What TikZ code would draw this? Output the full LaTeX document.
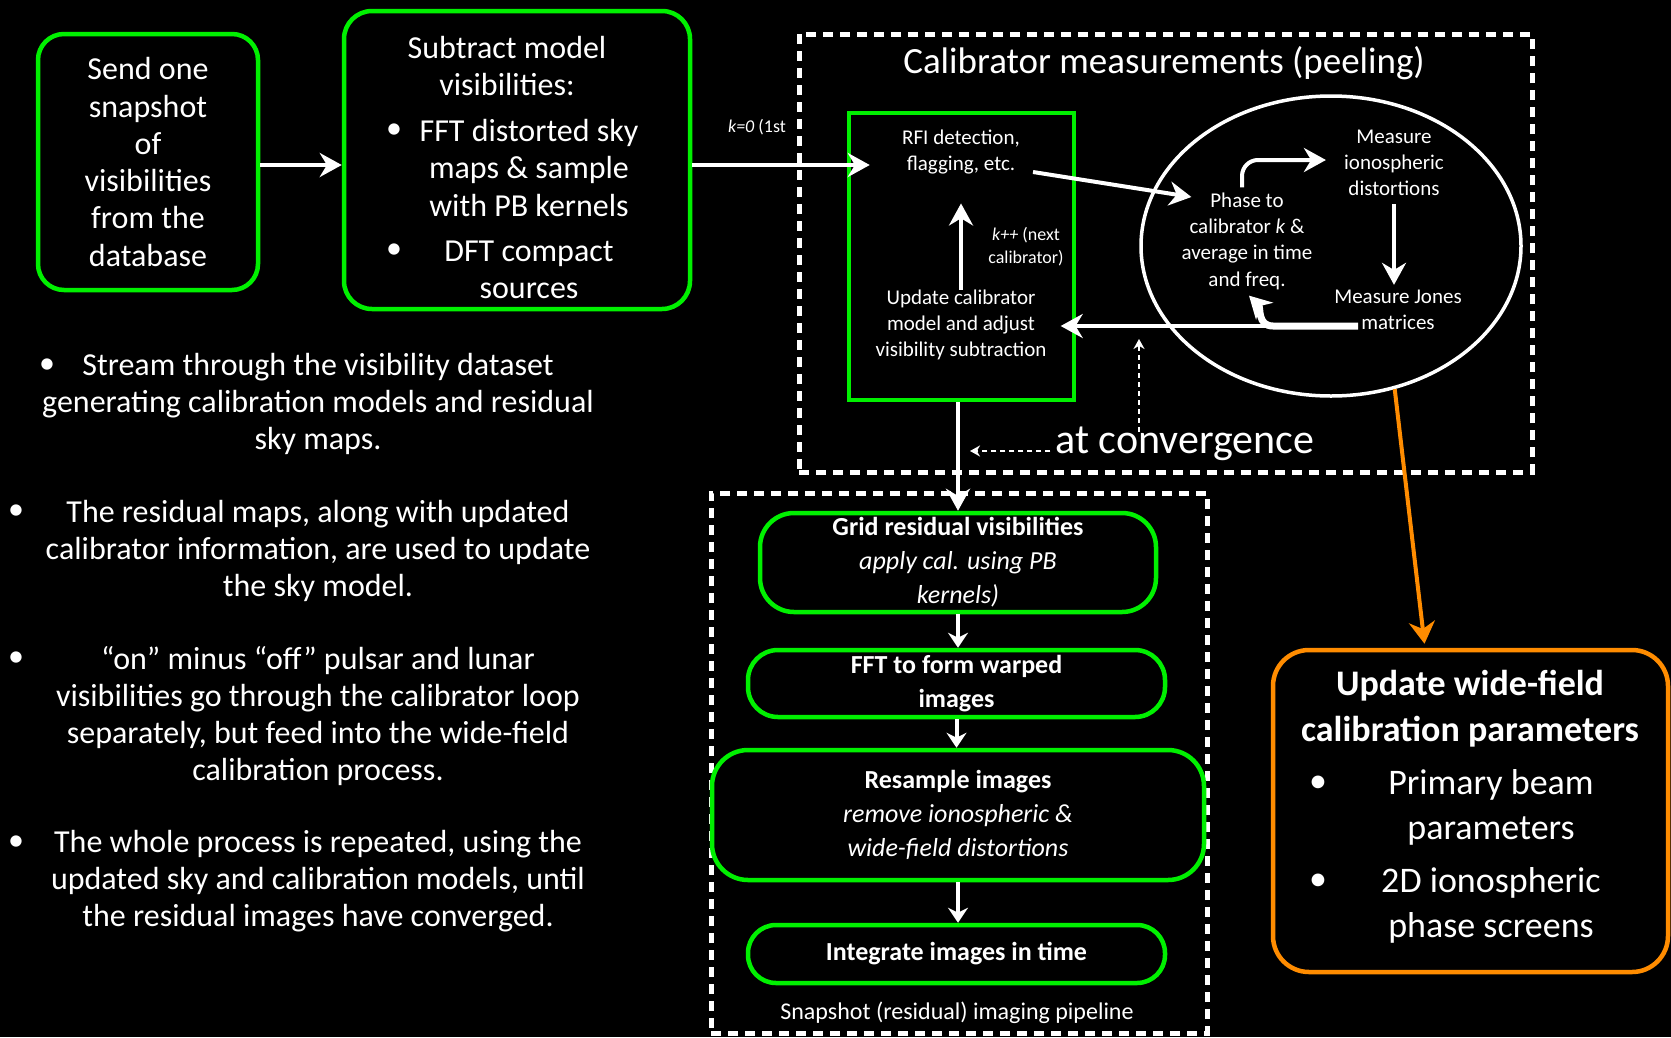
\documentclass[tikz,border=0pt]{standalone}
\usepackage{fontspec}
\setmainfont{Carlito}
\usetikzlibrary{arrows.meta,shapes.geometric,calc}
\definecolor{boxgreen}{RGB}{0,240,0}
\definecolor{caliborange}{RGB}{255,140,0}
\newcommand{\txtsize}[2]{\fontsize{#1}{#2}\selectfont}
\begin{document}
\begin{tikzpicture}[x=1pt, y=-1pt]
	\tikzset{>={Stealth[length=22pt,width=24pt]}}
	\tikzset{
		txt/.style={text=white, align=center, inner sep=0pt},
		bigtxt/.style={txt, font=\txtsize{32}{37.3}},
		widetxt/.style={txt, font=\txtsize{36}{45}},
		midtxt/.style={txt, font=\txtsize{26}{34}},
		smalltxt/.style={txt, font=\txtsize{21}{26.3}},
		tinytxt/.style={txt, font=\txtsize{18}{23}},
		greenbox/.style={draw=boxgreen, line width=4.5pt, rounded corners=#1},
		greenbox/.default=26pt,
		dashbox/.style={draw=white, line width=5pt, dash pattern=on 10pt off 7pt},
		flow/.style={->, draw=white, line width=4pt},
		pipeflow/.style={-{Stealth[length=15pt,width=20pt]}, draw=white, line width=4pt},
		convflow/.style={-{Stealth[length=10pt,width=11pt]}, draw=white, line width=2pt, dash pattern=on 5pt off 4pt}
	}
	\useasboundingbox (0,0) rectangle (1671,1037);
	\fill [black] (0,0) rectangle (1671,1037);

	\node [greenbox, minimum width=220pt, minimum height=256pt, bigtxt] (send) at (148,162) {Send one\\snapshot\\of\\visibilities\\from the\\database};
	\node [greenbox=28pt, minimum width=346pt, minimum height=298pt] (subtract) at (517,160) {};
	\node [bigtxt] (subtitle) at (507,66) {Subtract model\\visibilities:};
	\node [bigtxt] (fftsky) at (529,168) {FFT distorted sky\\maps \& sample\\with PB kernels};
	\node [bigtxt] (dftsrc) at (529,270) {DFT compact\\sources};
	\node [bigtxt] (dota) at (394,131) {\textbullet};
	\node [bigtxt] (dotb) at (394,251) {\textbullet};

	\node [dashbox, minimum width=733pt, minimum height=438pt] (calib) at (1165.5,253) {};
	\node [txt, font=\txtsize{37}{44}] (calibtitle) at (1164,63) {Calibrator measurements (peeling)};
	\node [draw=boxgreen, line width=4.5pt, minimum width=225pt, minimum height=287pt] (calbox) at (961.5,256.5) {};
	\node [smalltxt] (rfi) at (961,152) {RFI detection,\\flagging, etc.};
	\node [smalltxt] (update) at (961,325) {Update calibrator\\model and adjust\\visibility subtraction};
	\node [tinytxt] (knext) at (1026,247) {\textit{k++} (next\\calibrator)};
	\node [tinytxt] (kzero) at (757,127) {\textit{k=0} (1st};
	\node [draw=white, line width=3.5pt, ellipse, minimum width=380pt, minimum height=300pt] (loop) at (1331,246) {};
	\node [smalltxt] (phase) at (1247,241) {Phase to\\calibrator \textit{k} \&\\average in time\\and freq.};
	\node [smalltxt] (iono) at (1394,163) {Measure\\ionospheric\\distortions};
	\node [smalltxt] (jones) at (1398,310) {Measure Jones\\matrices};
	\node [txt, font=\txtsize{42}{48}] (conv) at (1185,444) {at convergence};

	\node [dashbox, minimum width=496pt, minimum height=540pt] (pipe) at (959,763) {};
	\node [txt, font=\txtsize{24}{28}] (pipename) at (957,1013) {Snapshot (residual) imaging pipeline};
	\node [greenbox=34pt, minimum width=396pt, minimum height=99pt, midtxt] (grid) at (958,562.5) {\textbf{Grid residual visibilities}\\\textit{apply cal. using PB}\\\textit{kernels)}};
	\node [greenbox=30pt, minimum width=417pt, minimum height=67pt, midtxt] (fft) at (956.5,683.5) {\textbf{FFT to form warped}\\\textbf{images}};
	\node [greenbox=36pt, minimum width=492pt, minimum height=130pt, midtxt] (resample) at (958,815) {\textbf{Resample images}\\\textit{remove ionospheric \&}\\\textit{wide-field distortions}};
	\node [greenbox=28pt, minimum width=417pt, minimum height=58pt, midtxt] (integrate) at (956.5,954) {\textbf{Integrate images in time}};

	\node [draw=caliborange, line width=4.5pt, rounded corners=36pt, minimum width=395pt, minimum height=322pt] (wide) at (1470.5,811) {};
	\node [widetxt, font=\bfseries\txtsize{36}{46}] (widetitle) at (1470,709) {Update wide-field\\calibration parameters};
	\node [widetxt] (beam) at (1491,807) {Primary beam\\parameters};
	\node [widetxt] (screens) at (1491,905) {2D ionospheric\\phase screens};
	\node [widetxt] (dotc) at (1318,784) {\textbullet};
	\node [widetxt] (dotd) at (1318,882) {\textbullet};

	\node [bigtxt] (stream) at (318,404) {Stream through the visibility dataset\\generating calibration models and residual\\sky maps.};
	\node [bigtxt] (residual) at (318,551) {The residual maps, along with updated\\calibrator information, are used to update\\the sky model.};
	\node [bigtxt] (onoff) at (318,716) {“on” minus “off” pulsar and lunar\\visibilities go through the calibrator loop\\separately, but feed into the wide-field\\calibration process.};
	\node [bigtxt] (repeat) at (318,881) {The whole process is repeated, using the\\updated sky and calibration models, until\\the residual images have converged.};
	\node [bigtxt] (dote) at (47,366) {\textbullet};
	\node [bigtxt] (dotf) at (16,512) {\textbullet};
	\node [bigtxt] (dotg) at (16,659) {\textbullet};
	\node [bigtxt] (doth) at (16,843) {\textbullet};

	\coordinate (feed) at ([yshift=-5pt]subtract.east);
	\coordinate (jfoot) at ([shift={(24,16)}]jones.west);
	\draw [flow] ([yshift=-3pt]send.east) -- ($(send.east -| subtract.west)+(0,3)$);
	\draw [flow] (feed) -- ($(feed -| calbox.west)+(23,0)$);
	\draw [flow] ([shift={(13,20)}]rfi.east) -- ([shift={(10,-44)}]phase.west);
	\draw [flow, rounded corners=16pt] ([shift={(-5,-5)}]phase.north) |- ([shift={(-18,-3)}]iono.west);
	\draw [flow] ([yshift=-8pt]iono.south) -- ($(iono.south |- jones.north)+(0,-5)$);
	\draw [flow] (jfoot) -- ($(jfoot -| update.east)+(14,0)$);
	\draw [->, white, line width=7pt] (jfoot) -- ++(-85,0) .. controls +(-16,0) and +(12,12) .. ([shift={(2,6)}]phase.south);
	\draw [flow] (update.north) -- ($(rfi.south)+(0,29)$);
	\draw [flow] (calbox.south -| grid.north) -- (grid.north);
	\draw [pipeflow] (grid.south) -- (grid.south |- fft.north);
	\draw [pipeflow] (fft.south) -- (fft.south |- resample.north);
	\draw [pipeflow] (resample.south) -- (resample.south |- integrate.north);
	\draw [convflow] ($(conv.west)+(-5,7)$) -- ($(conv.west -| grid.north)+(12,7)$);
	\draw [convflow] ($(conv.north)+(-46,5)$) -- ($(conv.north |- jfoot)+(-46,13)$);
	\draw [-{Stealth[length=22pt,width=26pt]}, caliborange, line width=4pt] (loop.-66) -- ($(wide.north)+(-46,-4)$);
\end{tikzpicture}
\end{document}
